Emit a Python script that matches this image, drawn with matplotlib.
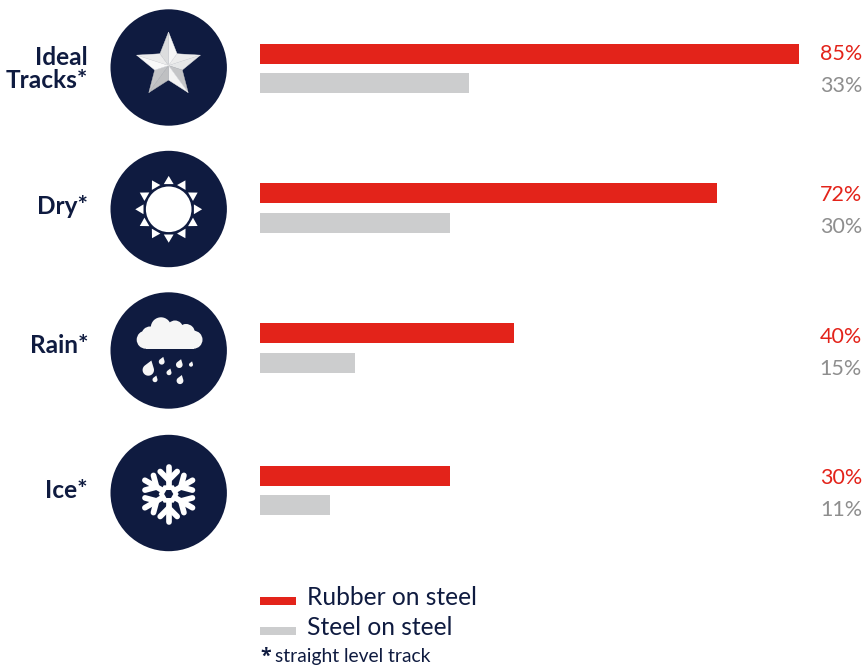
import numpy as np
import matplotlib
matplotlib.use('Agg')
import matplotlib.pyplot as plt
from matplotlib.patches import Circle, Polygon, Rectangle

plt.rcParams['font.family'] = ['Lato', 'DejaVu Sans']

# values in percent
categories = ['Ideal\nTracks*', 'Dry*', 'Rain*', 'Ice*']
rubber_on_steel = [85, 72, 40, 30]
steel_on_steel = [33, 30, 15, 11]

NAVY = '#0f1b40'
RED = '#e3231a'
GREY = '#cccdce'
GREY_TEXT = '#8e8e8e'
CLOUD = '#f6f6f6'

# row layout in pixels
circle_y = [67.5, 209, 350.5, 493]
rubber_y = [54, 193, 333, 476]
steel_y = [83, 223, 363, 505]
label_base = [88, 214, 353, 498]
rubber_base = [60, 201, 343, 484]
steel_base = [92, 233, 375, 516]
W, H = 863, 667
CX = 168.7

fig = plt.figure(figsize=(W / 100, H / 100), dpi=100)

# page axes in pixel coordinates for icons and text
page = fig.add_axes([0, 0, 1, 1])
page.set_xlim(0, W)
page.set_ylim(H, 0)
page.axis('off')

# bar axes: 0-85 % spans x = 260..799
ax = fig.add_axes([260 / W, 0, (799 - 260) / W, 1])
ax.set_xlim(0, 85)
ax.set_ylim(H, 0)
ax.axis('off')
ax.patch.set_alpha(0)
ax.barh(rubber_y, rubber_on_steel, height=20, color=RED)
ax.barh(steel_y, steel_on_steel, height=20, color=GREY)


def draw_star(cx, cy):
    outer = 33.5
    inner = 14.5
    pts = []
    for i in range(10):
        r = outer if i % 2 == 0 else inner
        a = np.radians(-90 + 36 * i)
        pts.append((cx + r * np.cos(a), cy + r * np.sin(a)))
    # facets clockwise from the top point
    shades = ['#f6f6f6', '#ececec', '#e6e7e8', '#c4c5c7', '#f4f4f4',
              '#bfc0c2', '#c4c5c7', '#f9f9f9', '#ececec', '#dcddde']
    for i in range(10):
        page.add_patch(Polygon([(cx, cy), pts[i], pts[(i + 1) % 10]], closed=True,
                               facecolor=shades[i], edgecolor=shades[i], lw=0.3))


def draw_sun(cx, cy):
    page.add_patch(Circle((cx, cy), 22.8, fc='white', ec='none'))
    c = np.array([cx, cy])
    for i in range(12):
        a = np.radians(30 * i)
        d = np.array([np.cos(a), np.sin(a)])
        n = np.array([-d[1], d[0]])
        page.add_patch(Polygon([c + 33.4 * d, c + 25.2 * d + 4.9 * n, c + 25.2 * d - 4.9 * n],
                               closed=True, fc='white', ec='none'))


def draw_drop(cx, cy, r, tilt=18):
    # round body with tangents running up to a point
    tip_dist = 1.75 * r
    spread = np.arccos(r / tip_dist)
    up = np.radians(-90 + tilt)
    t = np.linspace(up + spread, up + 2 * np.pi - spread, 30)
    xs = np.r_[cx + tip_dist * np.cos(up), cx + r * np.cos(t)]
    ys = np.r_[cy + tip_dist * np.sin(up), cy + r * np.sin(t)]
    page.add_patch(Polygon(np.c_[xs, ys], closed=True, fc=CLOUD, ec='none'))


def draw_rain():
    for x, y, r in [(161, 327.5, 10.2), (175, 328.5, 8), (145.7, 339.7, 9),
                    (193.5, 339.7, 9), (186, 333, 9), (150, 335, 8.5)]:
        page.add_patch(Circle((x, y), r, fc=CLOUD, ec='none'))
    page.add_patch(Rectangle((145.7, 330), 47.8, 18.7, fc=CLOUD, ec='none'))
    for x, y, r in [(148.3, 370, 5.7), (161.7, 361.7, 2.9), (179.3, 364.7, 3.3), (191, 364.7, 2),
                    (169, 372.7, 2.5), (155, 379.7, 2.5), (180, 380.7, 3.4)]:
        draw_drop(x, y, r)


def draw_snowflake(cx, cy):
    style = dict(color='white', lw=4.1, solid_capstyle='round', zorder=3)
    c = np.array([cx, cy])
    for i in range(6):
        deg = -90 + 60 * i
        a = np.radians(deg)
        d = np.array([np.cos(a), np.sin(a)])
        page.plot(*zip(c + 7 * d, c + 27.5 * d), **style)
        fork = c + 14 * d
        for s in (-1, 1):
            b = np.radians(deg + s * 45)
            page.plot(*zip(fork, fork + 12 * np.array([np.cos(b), np.sin(b)])), **style)
    hexagon = [np.radians(60 * i) for i in range(6)]
    page.add_patch(Polygon([(cx + 10 * np.cos(a), cy + 10 * np.sin(a)) for a in hexagon],
                           closed=True, fc='white', ec='none', zorder=3))
    page.add_patch(Polygon([(cx + 4.6 * np.cos(a), cy + 4.6 * np.sin(a)) for a in hexagon],
                           closed=True, fc=NAVY, ec='none', zorder=4))


for y in circle_y:
    page.add_patch(Circle((CX, y), 58.2, fc=NAVY, ec='none'))
draw_star(168.5, 65.5)
draw_sun(CX, 209.3)
draw_rain()
draw_snowflake(CX, 494)

# category names
for name, y in zip(categories, label_base):
    page.text(88, y, name, ha='right', va='baseline', fontsize=17.6, fontweight='bold',
              color=NAVY, linespacing=1.02)

# value labels
for v, y in zip(rubber_on_steel, rubber_base):
    page.text(862, y, f'{v}%', ha='right', va='baseline', fontsize=15.5, color=RED)
for v, y in zip(steel_on_steel, steel_base):
    page.text(862, y, f'{v}%', ha='right', va='baseline', fontsize=15.5, color=GREY_TEXT)

# key
page.add_patch(Rectangle((260, 597), 36, 8, fc=RED, ec='none'))
page.add_patch(Rectangle((260, 627), 36, 8, fc=GREY, ec='none'))
page.text(307, 605, 'Rubber on steel', ha='left', va='baseline', fontsize=17.7, color=NAVY)
page.text(307, 635, 'Steel on steel', ha='left', va='baseline', fontsize=17.7, color=NAVY)
page.text(260, 662, '*', ha='left', va='baseline', fontsize=14, fontweight='bold', color=NAVY,
          family=['Open Sans', 'DejaVu Sans'])
page.text(275, 662, 'straight level track', ha='left', va='baseline', fontsize=13.9, color=NAVY)

fig.savefig('out.png', dpi=100)
